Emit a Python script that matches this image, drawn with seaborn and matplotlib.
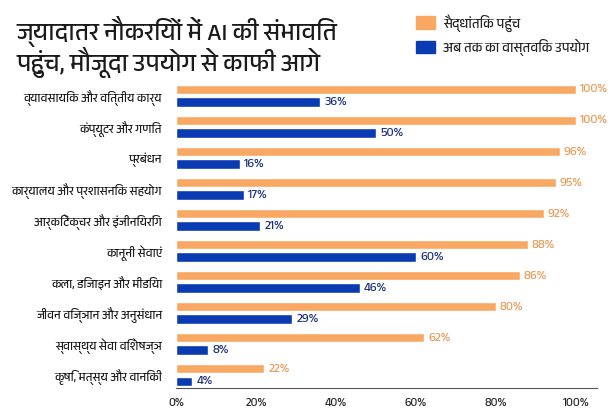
import numpy as np
import pandas as pd
import seaborn as sns
import matplotlib
matplotlib.use('Agg')
import matplotlib.pyplot as plt
from matplotlib import font_manager
from matplotlib.patches import Rectangle

# data
categories = ['व्यावसायिक और वित्तीय कार्य', 'कंप्यूटर और गणित', 'प्रबंधन',
              'कार्यालय और प्रशासनिक सहयोग', 'आर्किटेक्चर और इंजीनियरिंग',
              'कानूनी सेवाएं', 'कला, डिजाइन और मीडिया', 'जीवन विज्ञान और अनुसंधान',
              'स्वास्थ्य सेवा विशेषज्ञ', 'कृषि, मत्स्य और वानिकी']
theoretical = [100, 100, 96, 95, 92, 88, 86, 80, 62, 22]
actual = [36, 50, 16, 17, 21, 60, 46, 29, 8, 4]
series_names = ['सैद्धांतिक पहुंच', 'अब तक का वास्तविक उपयोग']
title = 'ज्यादातर नौकरियों में AI की संभावित\nपहुंच, मौजूदा उपयोग से काफी आगे'
xticks = [0, 20, 40, 60, 80, 100]

ORANGE = '#F8A862'
BLUE = '#0B3BB2'
ORANGE_TXT = '#E99A55'
BLUE_TXT = '#1A2F7C'

# look for a font that has devanagari glyphs
def find_deva_font():
    from fontTools.ttLib import TTFont
    best = None
    for f in font_manager.fontManager.ttflist:
        try:
            tt = TTFont(f.fname, fontNumber=0, lazy=True)
            cmap = tt.getBestCmap()
        except Exception:
            continue
        if cmap and 0x0915 in cmap:
            if 'Devanagari' in f.name:
                return f.name
            if best is None:
                best = f.name
    return best

deva = find_deva_font()
families = [deva, 'DejaVu Sans'] if deva else ['DejaVu Sans']

sns.set_style('white')
plt.rcParams['font.family'] = families

df = pd.DataFrame({
    'cat': categories * 2,
    'value': theoretical + actual,
    'series': [series_names[0]] * len(categories) + [series_names[1]] * len(categories),
})

fig = plt.figure(figsize=(6.16, 4.11), dpi=100)
ax = fig.add_axes([0.2857, 0.056, 0.683, 0.749])

sns.barplot(data=df, y='cat', x='value', hue='series', orient='h',
            palette=[ORANGE, BLUE], width=0.8, gap=0.25, ax=ax, legend=False,
            saturation=1)

# value labels
for cont, col in zip(ax.containers, [ORANGE_TXT, BLUE_TXT]):
    ax.bar_label(cont, labels=[f'{v:.0f}%' for v in cont.datavalues],
                 padding=3, color=col, fontsize=9, fontweight='bold', clip_on=False)

ax.set_xlim(0, 105.25)
ax.set_ylim(9.42, -0.5)
ax.set_xticks(xticks)
ax.set_xticklabels([f'{t}%' for t in xticks], fontsize=8.5)
ax.tick_params(axis='x', length=3, width=0.8, color='#555555', pad=4)
ax.tick_params(axis='y', length=0, labelsize=8.4, pad=10, labelcolor='#1a1a1a')
ax.set_xlabel('')
ax.set_ylabel('')
for s in ['top', 'right', 'left']:
    ax.spines[s].set_visible(False)
ax.spines['bottom'].set_color('#555555')
ax.spines['bottom'].set_linewidth(0.8)

# title
fig.text(0.026, 0.96, title, fontsize=17.5, fontweight='bold', color='#1a1a1a',
         va='top', ha='left', linespacing=1.0)

# legend
for i, (name, col) in enumerate(zip(series_names, [ORANGE, BLUE])):
    y = 411 - 29 - i * 24.5
    fig.patches.append(Rectangle((416 / 616, y / 411), 19 / 616, 12.5 / 411,
                                 transform=fig.transFigure, color=col))
    fig.text(443 / 616, (y + 6) / 411, name, fontsize=9.5, va='center', ha='left',
             color='#222222')

fig.savefig('out.png', dpi=100)
